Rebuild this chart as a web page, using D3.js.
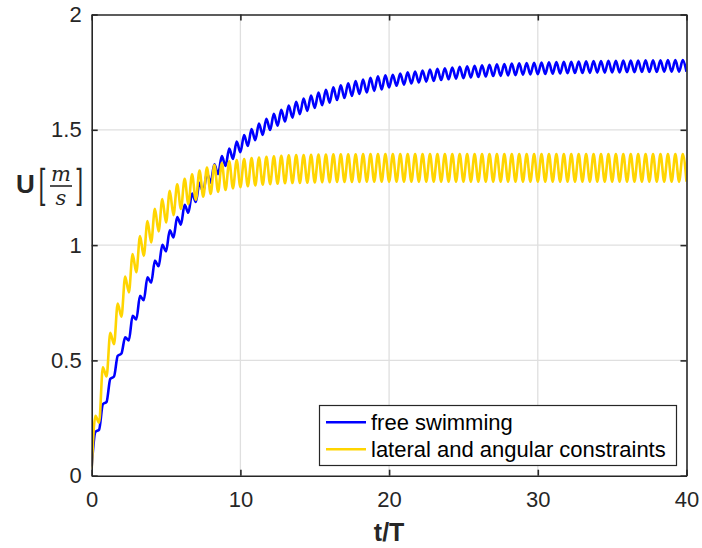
<!DOCTYPE html>
<head>
<meta charset="utf-8">
<script src="https://d3js.org/d3.v7.min.js"></script>
<title>Swimming speed</title>
<style>
  body { margin: 0; background: #fff; }
  svg { display: block; font-family: "Liberation Sans", Arial, sans-serif; }
</style>
</head>

<body>
<svg width="702" height="548"></svg>

<script>
// sampling step of both series, in t/T
const tStep = 0.25;

const xTicks = [0, 10, 20, 30, 40];
const yTicks = [0, 0.5, 1, 1.5, 2];

const seriesNames = ['free swimming', 'lateral and angular constraints'];
const seriesColors = ['#0000ff', '#ffd500'];

// U [m/s], one value every 0.25 t/T (peaks and troughs)
const freeSwimming = [
  0.040, 0.190, 0.200, 0.310, 0.320, 0.420, 0.430, 0.520, 0.530, 0.600,
  0.587, 0.693, 0.678, 0.780, 0.761, 0.860, 0.837, 0.933, 0.908, 1.001,
  0.973, 1.064, 1.033, 1.122, 1.089, 1.175, 1.140, 1.224, 1.187, 1.270,
  1.231, 1.312, 1.271, 1.350, 1.308, 1.386, 1.343, 1.419, 1.374, 1.449,
  1.403, 1.477, 1.430, 1.503, 1.455, 1.527, 1.478, 1.548, 1.499, 1.569,
  1.518, 1.587, 1.536, 1.605, 1.553, 1.621, 1.568, 1.635, 1.582, 1.649,
  1.595, 1.661, 1.607, 1.673, 1.618, 1.684, 1.629, 1.693, 1.638, 1.702,
  1.647, 1.711, 1.655, 1.718, 1.662, 1.725, 1.669, 1.732, 1.675, 1.736,
  1.684, 1.739, 1.691, 1.744, 1.696, 1.749, 1.701, 1.753, 1.705, 1.757,
  1.709, 1.761, 1.712, 1.764, 1.716, 1.767, 1.719, 1.770, 1.722, 1.773,
  1.724, 1.775, 1.727, 1.778, 1.729, 1.780, 1.731, 1.782, 1.733, 1.784,
  1.734, 1.785, 1.736, 1.787, 1.737, 1.788, 1.739, 1.789, 1.740, 1.791,
  1.741, 1.792, 1.742, 1.793, 1.743, 1.794, 1.744, 1.795, 1.745, 1.795,
  1.746, 1.796, 1.746, 1.797, 1.747, 1.798, 1.748, 1.798, 1.748, 1.799,
  1.749, 1.799, 1.749, 1.800, 1.750, 1.800, 1.750, 1.800, 1.751, 1.801,
  1.751, 1.801, 1.751, 1.801, 1.752, 1.802, 1.752, 1.802, 1.752, 1.802, 1.752
];

const constrained = [
  0.030, 0.260, 0.230, 0.470, 0.430, 0.620, 0.570, 0.747, 0.689, 0.864,
  0.795, 0.961, 0.882, 1.039, 0.953, 1.104, 1.012, 1.157, 1.059, 1.200,
  1.098, 1.235, 1.130, 1.264, 1.157, 1.288, 1.178, 1.307, 1.196, 1.323,
  1.210, 1.336, 1.222, 1.347, 1.231, 1.356, 1.239, 1.363, 1.246, 1.369,
  1.251, 1.373, 1.255, 1.377, 1.259, 1.380, 1.262, 1.383, 1.264, 1.385,
  1.266, 1.387, 1.268, 1.389, 1.269, 1.390, 1.270, 1.391, 1.271, 1.392,
  1.272, 1.393, 1.273, 1.393, 1.273, 1.394, 1.274, 1.394, 1.274, 1.394,
  1.274, 1.394, 1.274, 1.395, 1.275, 1.395, 1.275, 1.395, 1.275, 1.395,
  1.275, 1.395, 1.275, 1.395, 1.275, 1.395, 1.275, 1.395, 1.275, 1.395,
  1.275, 1.395, 1.275, 1.395, 1.275, 1.395, 1.275, 1.395, 1.275, 1.395,
  1.275, 1.395, 1.275, 1.395, 1.275, 1.395, 1.275, 1.395, 1.275, 1.395,
  1.275, 1.395, 1.275, 1.395, 1.275, 1.395, 1.275, 1.395, 1.275, 1.395,
  1.275, 1.395, 1.275, 1.395, 1.275, 1.395, 1.275, 1.395, 1.275, 1.395,
  1.275, 1.395, 1.275, 1.395, 1.275, 1.395, 1.275, 1.395, 1.275, 1.395,
  1.275, 1.395, 1.275, 1.395, 1.275, 1.395, 1.275, 1.395, 1.275, 1.395,
  1.275, 1.395, 1.275, 1.395, 1.275, 1.395, 1.275, 1.395, 1.275, 1.395, 1.275
];

const axisColor = '#262626';

const plotLeft = 91.7, plotRight = 686.5, plotTop = 14.5, plotBottom = 475.7;

const x = d3.scaleLinear().domain([0, 40]).range([plotLeft, plotRight]);
const y = d3.scaleLinear().domain([0, 2]).range([plotBottom, plotTop]);

const svg = d3.select('svg');

svg.append('rect')
  .attr('width', 702).attr('height', 548)
  .attr('fill', '#fff');

// grid
const grid = svg.append('g')
  .attr('stroke', '#dfdfdf')
  .attr('stroke-width', 1.3);

grid.selectAll('.gx')
  .data(xTicks.slice(1, -1))
  .enter().append('line')
    .attr('x1', d => x(d)).attr('x2', d => x(d))
    .attr('y1', plotTop).attr('y2', plotBottom);

grid.selectAll('.gy')
  .data(yTicks.slice(1, -1))
  .enter().append('line')
    .attr('y1', d => y(d)).attr('y2', d => y(d))
    .attr('x1', plotLeft).attr('x2', plotRight);

// lines
svg.append('clipPath').attr('id', 'plotclip')
  .append('rect')
    .attr('x', plotLeft).attr('y', plotTop)
    .attr('width', plotRight - plotLeft).attr('height', plotBottom - plotTop);

const line = d3.line()
  .x(d => x(d.t))
  .y(d => y(d.u))
  .curve(d3.curveMonotoneX);

const series = [freeSwimming, constrained].map(vals =>
  vals.map((u, i) => ({ t: i * tStep, u: u })));

svg.append('g')
  .attr('clip-path', 'url(#plotclip)')
  .selectAll('path')
  .data(series)
  .enter().append('path')
    .attr('d', line)
    .attr('fill', 'none')
    .attr('stroke', (d, i) => seriesColors[i])
    .attr('stroke-width', 2.6)
    .attr('stroke-linejoin', 'round');

// axes, ticks pointing inward on all four sides
function styleAxis(g) {
  g.attr('font-size', 22)
    .attr('font-family', '"Liberation Sans", Arial, sans-serif');
  g.selectAll('path').attr('stroke', axisColor).attr('stroke-width', 1.6);
  g.selectAll('line').attr('stroke', axisColor).attr('stroke-width', 1.6);
  g.selectAll('text').attr('fill', axisColor);
}

svg.append('g')
  .attr('transform', `translate(0,${plotBottom})`)
  .call(d3.axisBottom(x).tickValues(xTicks).tickSize(-6).tickSizeOuter(0)
    .tickPadding(16).tickFormat(d3.format('d')))
  .call(styleAxis);

svg.append('g')
  .attr('transform', `translate(0,${plotTop})`)
  .call(d3.axisTop(x).tickValues(xTicks).tickSize(-6).tickSizeOuter(0)
    .tickFormat(''))
  .call(styleAxis);

svg.append('g')
  .attr('transform', `translate(${plotLeft},0)`)
  .call(d3.axisLeft(y).tickValues(yTicks).tickSize(-6).tickSizeOuter(0)
    .tickPadding(10).tickFormat(d3.format('~g')))
  .call(styleAxis);

svg.append('g')
  .attr('transform', `translate(${plotRight},0)`)
  .call(d3.axisRight(y).tickValues(yTicks).tickSize(-6).tickSizeOuter(0)
    .tickFormat(''))
  .call(styleAxis);

// x label
svg.append('text')
  .attr('x', (plotLeft + plotRight) / 2)
  .attr('y', 541)
  .attr('text-anchor', 'middle')
  .attr('font-size', 25)
  .attr('font-weight', 'bold')
  .attr('fill', axisColor)
  .text('t/T');

// y label: U [m/s]
const ylab = svg.append('g').attr('fill', axisColor);
ylab.append('text')
  .attr('x', 16).attr('y', 193)
  .attr('font-size', 26)
  .attr('font-weight', 'bold')
  .text('U');
ylab.selectAll('.br')
  .data([['[', 42.5], [']', 79]])
  .enter().append('text')
    .attr('transform', d => `translate(${d[1]},200) scale(0.5,1)`)
    .attr('text-anchor', 'middle')
    .attr('font-family', '"DejaVu Serif", serif')
    .attr('font-size', 42)
    .text(d => d[0]);
ylab.append('text')
  .attr('x', 61).attr('y', 181)
  .attr('text-anchor', 'middle')
  .attr('font-family', '"DejaVu Serif", serif')
  .attr('font-style', 'italic')
  .attr('font-size', 21)
  .text('m');
ylab.append('text')
  .attr('x', 61).attr('y', 205)
  .attr('text-anchor', 'middle')
  .attr('font-family', '"DejaVu Serif", serif')
  .attr('font-style', 'italic')
  .attr('font-size', 21)
  .text('s');
ylab.append('line')
  .attr('x1', 50).attr('x2', 72)
  .attr('y1', 186).attr('y2', 186)
  .attr('stroke', axisColor)
  .attr('stroke-width', 1.6);

// legend
const legend = svg.append('g');
legend.append('rect')
  .attr('x', 319.5).attr('y', 405.5)
  .attr('width', 357).attr('height', 60)
  .attr('fill', '#fff')
  .attr('stroke', axisColor)
  .attr('stroke-width', 1.2);

const entries = legend.selectAll('.entry')
  .data(seriesNames)
  .enter().append('g')
    .attr('transform', (d, i) => `translate(0,${422.3 + i * 27})`);

entries.append('line')
  .attr('x1', 326).attr('x2', 366)
  .attr('stroke', (d, i) => seriesColors[i])
  .attr('stroke-width', 2.6);

entries.append('text')
  .attr('x', 371)
  .attr('dy', '0.35em')
  .attr('font-size', 22)
  .attr('fill', '#000')
  .text(d => d);
</script>
</body>
